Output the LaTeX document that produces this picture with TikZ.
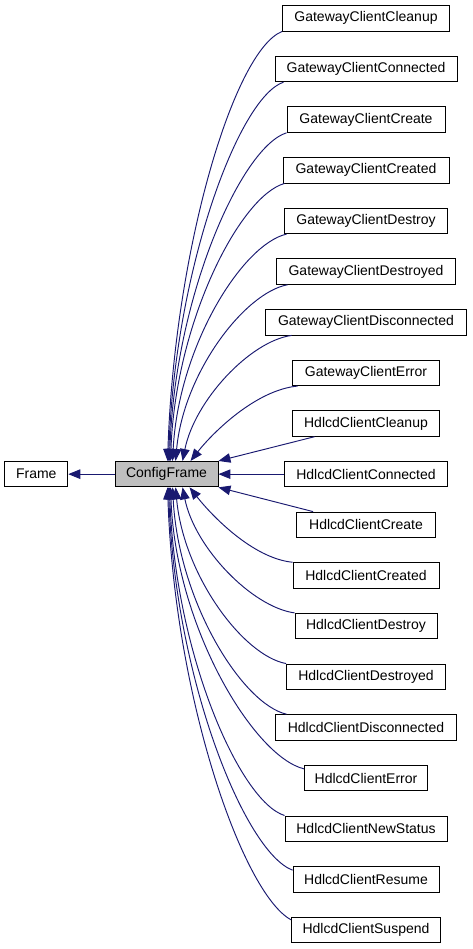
\documentclass[tikz,border=0pt]{standalone}
\usepackage{fontspec}
\setmainfont{Liberation Sans}
\usetikzlibrary{arrows.meta}
\definecolor{edgeblue}{HTML}{191970}
\definecolor{cfgray}{HTML}{BFBFBF}
\begin{document}
\begin{tikzpicture}[x=1pt,y=-1pt,
  cls/.style={draw=black, line width=0.9pt, fill=white, inner sep=0pt,
    minimum height=25.5pt, font=\fontsize{14pt}{16pt}\selectfont, text=black},
  edge/.style={draw=edgeblue, line width=0.95pt, -{Triangle[length=12pt,width=9.5pt]}}]
\useasboundingbox (0,0) rectangle (472,949);
% base and focus
\node[cls, minimum width=63pt] (fr) at (36.3,474.15) {Frame};
\node[cls, fill=cfgray, minimum width=103pt] (cf) at (166.5,474.15) {ConfigFrame};
% derived classes
\node[cls, minimum width=167pt] (c0) at (366,18.3) {GatewayClientCleanup};
\node[cls, minimum width=182pt] (c1) at (366,68.95) {GatewayClientConnected};
\node[cls, minimum width=158pt] (c2) at (366,119.6) {GatewayClientCreate};
\node[cls, minimum width=166pt] (c3) at (366,170.25) {GatewayClientCreated};
\node[cls, minimum width=163pt] (c4) at (366,220.9) {GatewayClientDestroy};
\node[cls, minimum width=179pt] (c5) at (366,271.55) {GatewayClientDestroyed};
\node[cls, minimum width=201pt] (c6) at (366,322.2) {GatewayClientDisconnected};
\node[cls, minimum width=147pt] (c7) at (366,372.85) {GatewayClientError};
\node[cls, minimum width=147pt] (c8) at (366,423.5) {HdlcdClientCleanup};
\node[cls, minimum width=163pt] (c9) at (366,474.15) {HdlcdClientConnected};
\node[cls, minimum width=139pt] (c10) at (366,524.8) {HdlcdClientCreate};
\node[cls, minimum width=146pt] (c11) at (366,575.45) {HdlcdClientCreated};
\node[cls, minimum width=142pt] (c12) at (366,626.1) {HdlcdClientDestroy};
\node[cls, minimum width=159pt] (c13) at (366,676.75) {HdlcdClientDestroyed};
\node[cls, minimum width=181pt] (c14) at (366,727.4) {HdlcdClientDisconnected};
\node[cls, minimum width=123pt] (c15) at (366,778.05) {HdlcdClientError};
\node[cls, minimum width=162pt] (c16) at (366,828.7) {HdlcdClientNewStatus};
\node[cls, minimum width=146pt] (c17) at (366,879.35) {HdlcdClientResume};
\node[cls, minimum width=149pt] (c18) at (366,930) {HdlcdClientSuspend};
% inheritance to Frame
\draw[edge] (cf.west) -- (fr.east);
% upper curved edges
\draw[edge] (c0.south west) .. controls +(-48,19) and +(7,-212) .. ([xshift=53pt]cf.north west);
\draw[edge] ([xshift=9pt]c1.south west) .. controls +(-45,15) and +(6,-190) .. ([xshift=54pt]cf.north west);
\draw[edge] (c2.south west) .. controls +(-45,14) and +(5,-165) .. ([xshift=55pt]cf.north west);
\draw[edge] ([xshift=2pt]c3.south west) .. controls +(-44,12) and +(5,-140) .. ([xshift=56pt]cf.north west);
\draw[edge] ([xshift=2.5pt]c4.south west) .. controls +(-44,10) and +(6,-115) .. ([xshift=58pt]cf.north west);
\draw[edge] ([xshift=11.5pt]c5.south west) .. controls +(-43,8) and +(8,-88) .. ([xshift=61pt]cf.north west);
\draw[edge] ([xshift=26.5pt]c6.south west) .. controls +(-42,6) and +(12,-60) .. ([xshift=68pt]cf.north west);
\draw[edge] ([xshift=5.5pt]c7.south west) .. controls +(-42,4) and +(22,-28) .. ([xshift=76pt]cf.north west);
% straight edges
\draw[edge] ([xshift=22.5pt]c8.south west) -- (cf.north east);
\draw[edge] (c9.west) -- (cf.east);
\draw[edge] ([xshift=17pt]c10.north west) -- (cf.south east);
% lower curved edges
\draw[edge] (c11.north west) .. controls +(-40,-4) and +(22,28) .. ([xshift=75pt]cf.south west);
\draw[edge] (c12.north west) .. controls +(-43,-6) and +(12,60) .. ([xshift=68pt]cf.south west);
\draw[edge] (c13.north west) .. controls +(-43,-8) and +(8,88) .. ([xshift=61pt]cf.south west);
\draw[edge] ([xshift=11.5pt]c14.north west) .. controls +(-44,-10) and +(6,115) .. ([xshift=58pt]cf.south west);
\draw[edge] ([yshift=-4pt]c15.north west) .. controls +(-50,-12) and +(5,140) .. ([xshift=56pt]cf.south west);
\draw[edge] (c16.north west) .. controls +(-45,-14) and +(5,165) .. ([xshift=55pt]cf.south west);
\draw[edge] ([yshift=-4pt]c17.north west) .. controls +(-48,-18) and +(6,190) .. ([xshift=54pt]cf.south west);
\draw[edge] ([yshift=-3pt]c18.north west) .. controls +(-48,-26) and +(7,212) .. ([xshift=53pt]cf.south west);
\end{tikzpicture}
\end{document}
